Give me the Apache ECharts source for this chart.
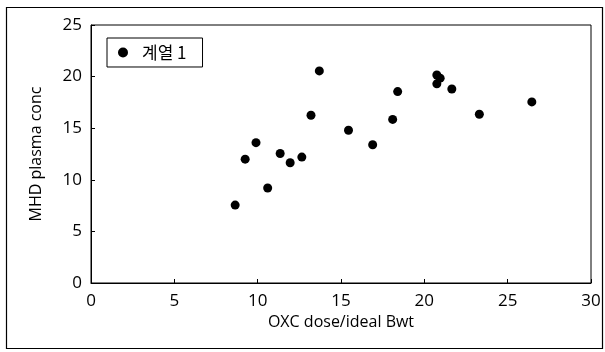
<!DOCTYPE html>
<html>
<head>
<meta charset="utf-8">
<script src="https://cdn.jsdelivr.net/npm/echarts@6/dist/echarts.min.js"></script>
<style>html,body{margin:0;padding:0;background:#fff;}#c{width:605px;height:352px;}</style>
</head>
<body>
<div id="c"></div>
<script>
var seriesName = '계열 1';
var xValues = [8.65, 10.6, 9.25, 9.9, 11.35, 11.95, 12.65, 13.7, 13.2, 15.45, 16.9, 18.1, 18.4, 20.75, 20.95, 20.75, 21.65, 23.3, 26.45];
var yValues = [7.55, 9.2, 12.0, 13.6, 12.55, 11.65, 12.2, 20.55, 16.25, 14.8, 13.4, 15.85, 18.55, 20.15, 19.85, 19.3, 18.8, 16.35, 17.55];
var xTitle = 'OXC dose/ideal Bwt';
var yTitle = 'MHD plasma conc';

var pts = xValues.map(function(x, i){ return [x, yValues[i]]; });
var font = '"Open Sans", sans-serif';
var chart = echarts.init(document.getElementById('c'), null, {renderer:'canvas'});
chart.setOption({
  animation: false,
  backgroundColor: '#fff',
  graphic: [{
    type: 'rect', left: 4, top: 5, shape: {width: 596, height: 341},
    style: {fill: 'none', stroke: '#000', lineWidth: 1.2}, silent: true
  }],
  grid: {left: 91, right: 14, top: 25, bottom: 69, show: true, borderColor: '#000', borderWidth: 1},
  legend: {
    left: 107, top: 38,
    padding: [6, 16, 6, 11],
    borderColor: '#000', borderWidth: 1,
    itemWidth: 10, itemHeight: 10, itemGap: 10,
    textStyle: {fontFamily: '"Noto Sans CJK KR", sans-serif', fontSize: 17, color: '#000', padding: [0, 0, 0, 9]},
    data: [{name: seriesName, icon: 'circle'}]
  },
  xAxis: {
    type: 'value', min: 0, max: 30, interval: 5,
    name: xTitle, nameLocation: 'middle', nameGap: 30,
    nameTextStyle: {fontFamily: font, fontSize: 16, color: '#000'},
    axisLine: {lineStyle: {color: '#000', width: 1}},
    axisTick: {show: true, inside: true, length: 4, lineStyle: {color: '#000'}},
    axisLabel: {fontFamily: font, fontSize: 17, color: '#000', margin: 10},
    splitLine: {show: false}
  },
  yAxis: {
    type: 'value', min: 0, max: 25, interval: 5,
    name: yTitle, nameLocation: 'middle', nameGap: 47, nameRotate: 90,
    nameTextStyle: {fontFamily: font, fontSize: 16, color: '#000'},
    axisLine: {show: true, lineStyle: {color: '#000', width: 1}},
    axisTick: {show: true, inside: true, length: 4, lineStyle: {color: '#000'}},
    axisLabel: {fontFamily: font, fontSize: 17, color: '#000', margin: 9},
    splitLine: {show: false}
  },
  series: [{
    name: seriesName, type: 'scatter', data: pts,
    symbol: 'circle', symbolSize: 9,
    itemStyle: {color: '#000', opacity: 1}
  }]
});
</script>
</body>
</html>
